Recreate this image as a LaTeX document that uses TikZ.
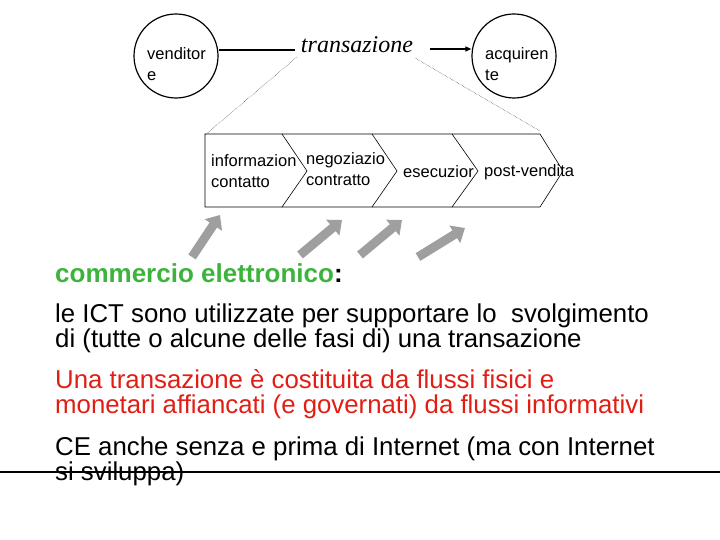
\documentclass[tikz,border=0pt]{standalone}
\usepackage{fontspec}
\setmainfont{Liberation Sans}
\newfontfamily\serifit{Liberation Serif}
\usetikzlibrary{arrows.meta}
\definecolor{cegreen}{RGB}{60,180,60}
\definecolor{cered}{RGB}{225,30,20}
\tikzset{
 party/.style={circle,draw,line width=1.2pt,minimum size=84pt,inner sep=0pt},
 small/.style={font=\fontsize{16.5}{21}\selectfont,anchor=west,inner sep=0pt,align=left},
 big/.style={font=\fontsize{25.8}{25}\selectfont,anchor=west,inner sep=0pt,align=left},
 grayarr/.style={-{Triangle[length=12pt,width=20pt]},line width=9pt,draw=gray!75},
 phase/.style={draw,line width=0.6pt}
}
\begin{document}
\begin{tikzpicture}[x=1pt,y=-1pt]
\useasboundingbox (0,0) rectangle (720,540);
\node[party] (v) at (176,56) {};
\node[small] (vt) at (147,64) {venditor\\e};
\node[party] (a) at (514,56) {};
\node[small] (at) at (485,64) {acquiren\\te};
\node[font=\serifit\itshape\fontsize{24}{24}\selectfont,inner sep=0pt] (t) at (357,45) {transazione};
\coordinate (l1) at (295,50);
\coordinate (r1) at (430,49);
\draw[line width=1.2pt] (v.east |- l1) -- (l1);
\draw[line width=1.2pt,-{Triangle[length=6pt,width=5pt]}] (r1) -- (a.west |- r1);
\coordinate (p1) at (205,135);
\coordinate (p2) at (540,131);
\draw[densely dotted,line width=0.4pt] (297,57) -- (p1);
\draw[densely dotted,line width=0.4pt] (415,58) -- (p2);
\draw[phase] (205,134) -- (282,134) -- (307,171) -- (282,207) -- (205,207) -- cycle;
\draw[phase] (282,134) -- (372,134) -- (397,171) -- (372,207) -- (282,207);
\draw[phase] (372,134) -- (452,134) -- (478,171) -- (452,207) -- (372,207);
\draw[phase] (452,134) -- (540,134) -- (563,171) -- (540,207) -- (452,207);
\node[small] (f1) at (211,171) {informazion\\contatto};
\node[small] (f2) at (306,169) {negoziazio\\contratto};
\node[small] (f3) at (403,172) {esecuzior};
\node[small] (f4) at (484,172) {post-vendita};
\node (g1a) at (192,257) {}; \node (g1b) at (220,215) {};
\node (g2a) at (300,255) {}; \node (g2b) at (342,220) {};
\node (g3a) at (360,255) {}; \node (g3b) at (402,220) {};
\node (g4a) at (418,257) {}; \node (g4b) at (465,228) {};
\draw[grayarr] (g1a.center) -- (g1b.center);
\draw[grayarr] (g2a.center) -- (g2b.center);
\draw[grayarr] (g3a.center) -- (g3b.center);
\draw[grayarr] (g4a.center) -- (g4b.center);
\node[big,text=cegreen,font=\bfseries\fontsize{26}{25}\selectfont] (ce) at (55,273) {commercio elettronico\textcolor{black}{:}};
\node[big] (b1) at (55,328) {le ICT sono utilizzate per supportare lo\ \ svolgimento\\di (tutte o alcune delle fasi di) una transazione};
\node[big,text=cered] (b2) at (55,394) {Una transazione è costituita da flussi fisici e\\monetari affiancati (e governati) da flussi informativi};
\node[big] (b3) at (55,461) {CE anche senza e prima di Internet (ma con Internet\\si sviluppa)};
\coordinate (h1) at (0,472); \coordinate (h2) at (720,472);
\draw[line width=1.2pt] (h1) -- (h2);
\end{tikzpicture}
\end{document}
